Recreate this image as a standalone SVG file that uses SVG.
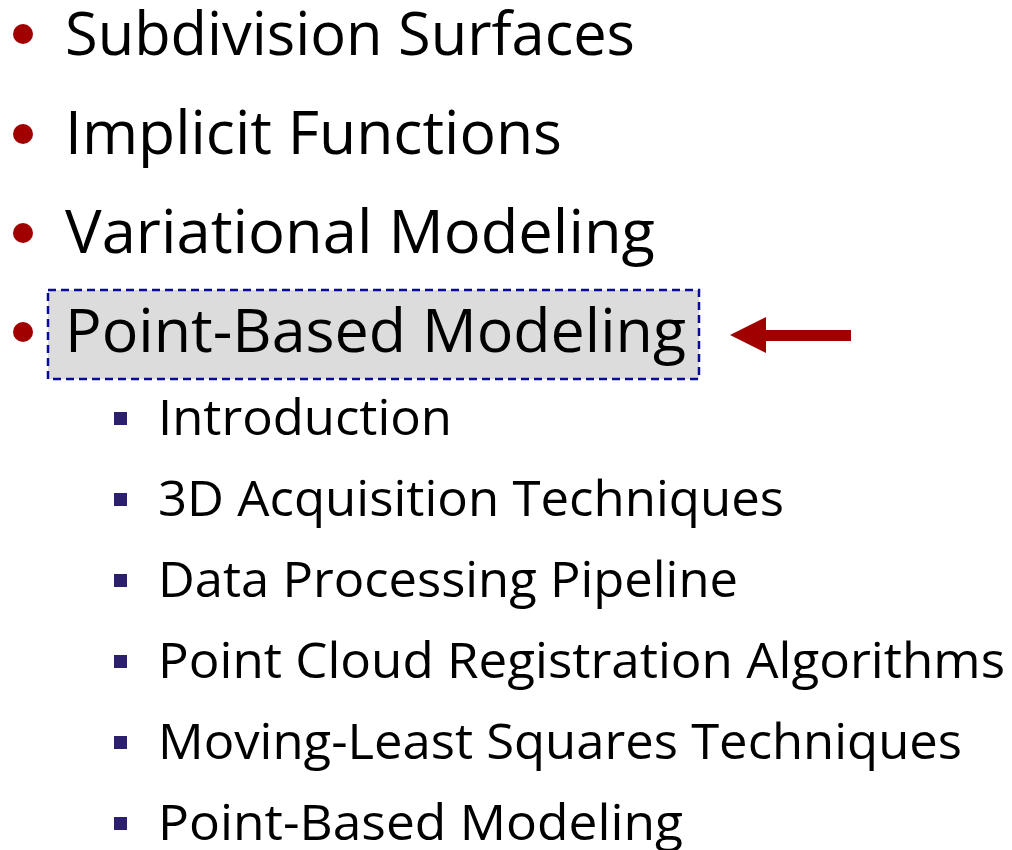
<svg xmlns="http://www.w3.org/2000/svg" width="1012" height="850" viewBox="0 0 1012 850">
<style>
.main{font-family:"Open Sans","Noto Sans","Liberation Sans",sans-serif;font-size:60px;fill:#000}
.sub{font-family:"Open Sans","Noto Sans","Liberation Sans",sans-serif;font-size:49px;fill:#000}
.dot{fill:#a00000}
.sq{fill:#2b1f6e}
</style>
<rect width="1012" height="850" fill="#ffffff"/>
<g id="item-subdivision">
<circle class="dot" cx="23" cy="34" r="10"/>
<text class="main" x="65" y="55" textLength="570" lengthAdjust="spacingAndGlyphs">Subdivision Surfaces</text>
</g>
<g id="item-implicit">
<circle class="dot" cx="23" cy="134" r="10"/>
<text class="main" x="65" y="154" textLength="497" lengthAdjust="spacingAndGlyphs">Implicit Functions</text>
</g>
<g id="item-variational">
<circle class="dot" cx="23" cy="233" r="10"/>
<text class="main" x="65" y="253" textLength="590" lengthAdjust="spacingAndGlyphs">Variational Modeling</text>
</g>
<g id="item-pointbased">
<rect x="48" y="290" width="651" height="89" fill="#dcdcdc" stroke="#0a0a9a" stroke-width="2.5" stroke-dasharray="8,5"/>
<circle class="dot" cx="23" cy="332" r="10"/>
<text class="main" x="65" y="352" textLength="621" lengthAdjust="spacingAndGlyphs">Point-Based Modeling</text>
</g>
<g id="sub-intro">
<rect class="sq" x="114" y="412" width="13" height="13"/>
<text class="sub" x="158" y="435" textLength="294" lengthAdjust="spacingAndGlyphs">Introduction</text>
</g>
<g id="sub-3d">
<rect class="sq" x="114" y="493" width="13" height="13"/>
<text class="sub" x="158" y="516" textLength="626" lengthAdjust="spacingAndGlyphs">3D Acquisition Techniques</text>
</g>
<g id="sub-data">
<rect class="sq" x="114" y="574" width="13" height="13"/>
<text class="sub" x="158" y="597" textLength="580" lengthAdjust="spacingAndGlyphs">Data Processing Pipeline</text>
</g>
<g id="sub-registration">
<rect class="sq" x="114" y="655" width="13" height="13"/>
<text class="sub" x="158" y="678" textLength="847" lengthAdjust="spacingAndGlyphs">Point Cloud Registration Algorithms</text>
</g>
<g id="sub-mls">
<rect class="sq" x="114" y="736" width="13" height="13"/>
<text class="sub" x="158" y="759" textLength="804" lengthAdjust="spacingAndGlyphs">Moving-Least Squares Techniques</text>
</g>
<g id="sub-pbm">
<rect class="sq" x="114" y="817" width="13" height="13"/>
<text class="sub" x="158" y="840" textLength="525" lengthAdjust="spacingAndGlyphs">Point-Based Modeling</text>
</g>
<g id="connectors">
<path d="M851,330 L766,330 L766,317 L730,335 L766,353 L766,341 L851,341 Z" fill="#a00000"/>
</g>
</svg>
